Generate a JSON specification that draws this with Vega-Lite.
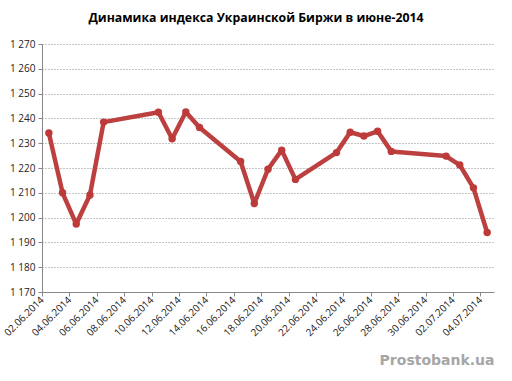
{
  "$schema": "https://vega.github.io/schema/vega-lite/v6.json",
  "width": 452,
  "height": 248,
  "autosize": {"type": "none"},
  "padding": {"left": 42, "top": 44, "right": 18, "bottom": 89},
  "background": "white",
  "title": {
    "text": "Динамика индекса Украинской Биржи в июне-2014",
    "font": "Open Sans",
    "fontSize": 12.3,
    "fontWeight": "bold",
    "color": "#000000",
    "anchor": "middle",
    "dx": -12,
    "offset": 15
  },
  "data": {
    "values": [
      {"date": "2014-06-02T00:00:00", "value": 1234.1},
      {"date": "2014-06-03T00:00:00", "value": 1210.0},
      {"date": "2014-06-04T00:00:00", "value": 1197.4},
      {"date": "2014-06-05T00:00:00", "value": 1209.1},
      {"date": "2014-06-06T00:00:00", "value": 1238.5},
      {"date": "2014-06-10T00:00:00", "value": 1242.5},
      {"date": "2014-06-11T00:00:00", "value": 1231.8},
      {"date": "2014-06-12T00:00:00", "value": 1242.6},
      {"date": "2014-06-13T00:00:00", "value": 1236.3},
      {"date": "2014-06-16T00:00:00", "value": 1222.6},
      {"date": "2014-06-17T00:00:00", "value": 1205.7},
      {"date": "2014-06-18T00:00:00", "value": 1219.5},
      {"date": "2014-06-19T00:00:00", "value": 1227.2},
      {"date": "2014-06-20T00:00:00", "value": 1215.4},
      {"date": "2014-06-23T00:00:00", "value": 1226.2},
      {"date": "2014-06-24T00:00:00", "value": 1234.4},
      {"date": "2014-06-25T00:00:00", "value": 1232.9},
      {"date": "2014-06-26T00:00:00", "value": 1234.8},
      {"date": "2014-06-27T00:00:00", "value": 1226.7},
      {"date": "2014-07-01T00:00:00", "value": 1224.8},
      {"date": "2014-07-02T00:00:00", "value": 1221.2},
      {"date": "2014-07-03T00:00:00", "value": 1212.0},
      {"date": "2014-07-04T00:00:00", "value": 1194.0}
    ]
  },
  "encoding": {
    "x": {
      "field": "date",
      "type": "temporal",
      "timeUnit": "yearmonthdate",
      "bandPosition": 0.5,
      "scale": {
        "domain": [
          {"year": 2014, "month": 6, "date": 2},
          {"year": 2014, "month": 7, "date": 5}
        ]
      },
      "axis": {
        "title": "Prostobank.ua",
        "titleAnchor": "end",
        "titleAlign": "right",
        "titleFont": "DejaVu Sans",
        "titleFontSize": 14,
        "titleFontWeight": "bold",
        "titleColor": "#a6a6a6",
        "titlePadding": 16,
        "values": [
          {"year": 2014, "month": 6, "date": 2},
          {"year": 2014, "month": 6, "date": 4},
          {"year": 2014, "month": 6, "date": 6},
          {"year": 2014, "month": 6, "date": 8},
          {"year": 2014, "month": 6, "date": 10},
          {"year": 2014, "month": 6, "date": 12},
          {"year": 2014, "month": 6, "date": 14},
          {"year": 2014, "month": 6, "date": 16},
          {"year": 2014, "month": 6, "date": 18},
          {"year": 2014, "month": 6, "date": 20},
          {"year": 2014, "month": 6, "date": 22},
          {"year": 2014, "month": 6, "date": 24},
          {"year": 2014, "month": 6, "date": 26},
          {"year": 2014, "month": 6, "date": 28},
          {"year": 2014, "month": 6, "date": 30},
          {"year": 2014, "month": 7, "date": 2},
          {"year": 2014, "month": 7, "date": 4}
        ],
        "format": "%d.%m.%Y",
        "labelAngle": -45,
        "labelAlign": "right",
        "labelBaseline": "middle",
        "labelFont": "Open Sans",
        "labelFontSize": 10,
        "labelColor": "#222222",
        "labelPadding": 2,
        "labelOverlap": false,
        "labelBound": false,
        "labelFlush": false,
        "grid": false,
        "domainColor": "#888888",
        "tickColor": "#888888",
        "tickSize": 4
      }
    },
    "y": {
      "field": "value",
      "type": "quantitative",
      "scale": {"domain": [1170, 1270], "nice": false, "zero": false},
      "axis": {
        "title": null,
        "values": [1170, 1180, 1190, 1200, 1210, 1220, 1230, 1240, 1250, 1260, 1270],
        "labelExpr": "replace(format(datum.value, ','), ',', ' ')",
        "labelFont": "Open Sans",
        "labelFontSize": 10,
        "labelColor": "#222222",
        "labelPadding": 3,
        "grid": true,
        "gridColor": "#888888",
        "gridDash": [1, 2],
        "gridWidth": 1,
        "domainColor": "#888888",
        "tickColor": "#888888",
        "tickSize": 4
      }
    }
  },
  "layer": [
    {
      "mark": {"type": "line", "color": "#bd4040", "strokeWidth": 4.5, "strokeJoin": "round"}
    },
    {
      "mark": {"type": "point", "filled": true, "color": "#bd3a3a", "size": 55, "opacity": 1}
    }
  ],
  "config": {
    "view": {"stroke": null}
  }
}
